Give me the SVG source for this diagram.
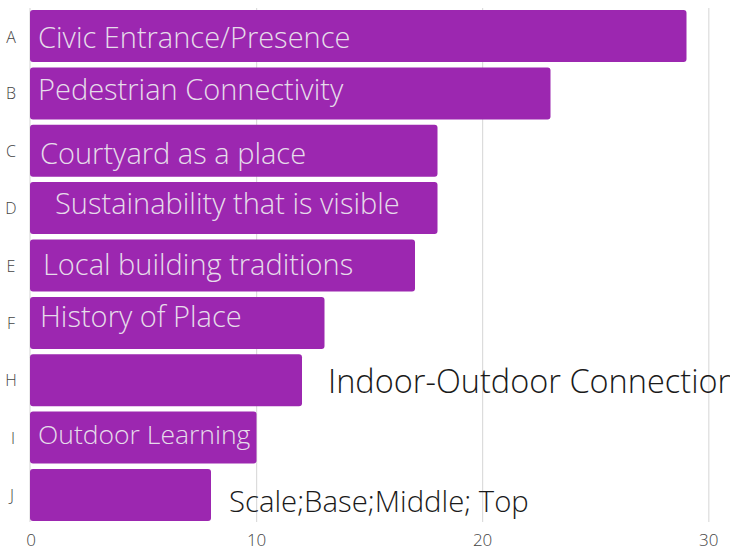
<svg xmlns="http://www.w3.org/2000/svg" width="730" height="549" viewBox="0 0 730 549">
<style>
.grid{stroke:#dcdcdc;stroke-width:1.2}
.bar{fill:#9c27b0}
.bl{font-family:"Open Sans","Liberation Sans",sans-serif;font-weight:300;font-size:29px;fill:#e6dcea}
.ext{font-family:"Open Sans","Liberation Sans",sans-serif;font-weight:300;fill:#1a1a1a}
.cat{font-family:"Open Sans","Liberation Sans",sans-serif;font-weight:300;font-size:16px;fill:#444;text-anchor:middle}
.tick{font-family:"Open Sans","Liberation Sans",sans-serif;font-weight:300;font-size:17px;fill:#444;text-anchor:middle}
</style>
<rect width="730" height="549" fill="#fff"/>
<g id="grid">
<line class="grid" x1="30" y1="8" x2="30" y2="522"/>
<line class="grid" x1="256.6" y1="8" x2="256.6" y2="522"/>
<line class="grid" x1="482.6" y1="8" x2="482.6" y2="522"/>
<line class="grid" x1="708.8" y1="8" x2="708.8" y2="522"/>
</g>
<g id="axis">
<text class="cat" x="11" y="43">A</text>
<text class="cat" x="11" y="99">B</text>
<text class="cat" x="11" y="157">C</text>
<text class="cat" x="11" y="214">D</text>
<text class="cat" x="11" y="272">E</text>
<text class="cat" x="11" y="329">F</text>
<text class="cat" x="11" y="386">H</text>
<text class="cat" x="13" y="444">I</text>
<text class="cat" x="12" y="501">J</text>
<text class="tick" x="31" y="546">0</text>
<text class="tick" x="256.6" y="546">10</text>
<text class="tick" x="482.6" y="546">20</text>
<text class="tick" x="708.8" y="546">30</text>
</g>
<g id="A"><rect class="bar" x="30" y="10" width="656.5" height="52" rx="3"/><text class="bl" x="38" y="48">Civic Entrance/Presence</text></g>
<g id="B"><rect class="bar" x="30" y="67.4" width="520.5" height="52" rx="3"/><text class="bl" x="38" y="100">Pedestrian Connectivity</text></g>
<g id="C"><rect class="bar" x="30" y="124.8" width="407.5" height="52" rx="3"/><text class="bl" x="40" y="164">Courtyard as a place</text></g>
<g id="D"><rect class="bar" x="30" y="182.1" width="407.5" height="52" rx="3"/><text class="bl" x="55" y="214">Sustainability that is visible</text></g>
<g id="E"><rect class="bar" x="30" y="239.5" width="385" height="52" rx="3"/><text class="bl" x="43" y="275">Local building traditions</text></g>
<g id="F"><rect class="bar" x="30" y="296.9" width="294.5" height="52" rx="3"/><text class="bl" x="40" y="327">History of Place</text></g>
<g id="H"><rect class="bar" x="30" y="354.2" width="272" height="52" rx="3"/><text class="ext" x="328" y="393" style="font-size:32.5px">Indoor-Outdoor Connection</text></g>
<g id="I"><rect class="bar" x="30" y="411.6" width="226.5" height="52" rx="3"/><text class="bl" x="38" y="444" style="font-size:26.5px">Outdoor Learning</text></g>
<g id="J"><rect class="bar" x="30" y="469" width="181" height="52" rx="3"/><text class="ext" x="229" y="512" style="font-size:29.3px">Scale;Base;Middle; Top</text></g>
</svg>
